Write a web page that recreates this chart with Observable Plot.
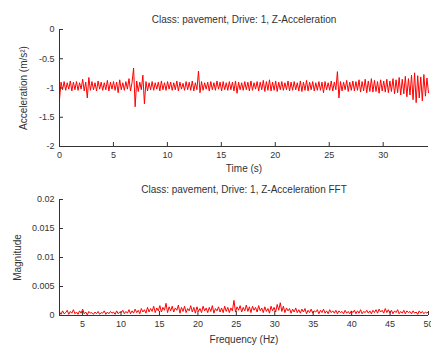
<!DOCTYPE html>
<html><head><meta charset="utf-8">
<script src="https://cdn.jsdelivr.net/npm/d3@7"></script>
<script src="https://cdn.jsdelivr.net/npm/@observablehq/plot@0.6"></script>
<style>html,body{margin:0;padding:0;background:#fff}svg{display:block}</style>
</head><body><div id="chart"></div>
<script>
// ---- Top panel: Z-acceleration over time ----
const accelTitle = "Class: pavement, Drive: 1, Z-Acceleration";
const accelXLabel = "Time (s)";
const accelYLabel = "Acceleration (m/s²)";
const accelDuration = 34.2; // seconds shown on the axis
const accel = [
 -1.20,-0.90,-1.03,-0.89,-1.04,-0.91,-1.02,-0.88,-1.05,-0.90,-1.03,-0.89,
 -1.04,-0.91,-1.02,-0.85,-1.05,-0.90,-1.17,-0.82,-1.04,-0.89,-1.03,-0.91,
 -1.05,-0.88,-1.02,-0.90,-1.04,-0.91,-1.03,-0.87,-1.05,-0.90,-1.02,-0.89,
 -1.04,-0.90,-1.08,-0.86,-1.03,-0.91,-1.04,-0.89,-1.02,-0.84,-1.05,-0.90,
 -0.66,-1.32,-0.88,-1.06,-0.90,-1.03,-0.78,-1.27,-0.89,-1.05,-0.91,-1.03,
 -0.89,-1.04,-0.91,-1.02,-0.90,-1.05,-0.88,-1.03,-0.91,-1.04,-0.89,-1.02,
 -0.90,-1.04,-0.91,-1.03,-0.88,-1.05,-0.90,-1.02,-0.92,-1.04,-0.89,-1.03,
 -0.90,-1.04,-0.88,-1.05,-0.91,-1.03,-0.71,-1.08,-0.89,-1.04,-0.91,-1.02,
 -0.90,-1.05,-0.89,-1.03,-0.91,-1.04,-0.88,-1.02,-0.90,-1.05,-0.89,-1.03,
 -0.91,-1.04,-0.89,-1.03,-0.90,-1.05,-0.88,-1.09,-0.90,-1.03,-0.91,-1.04,
 -0.89,-1.03,-0.90,-1.05,-0.88,-1.04,-0.91,-1.02,-0.89,-1.05,-0.90,-1.03,
 -0.87,-1.06,-0.89,-1.04,-0.86,-1.05,-0.90,-1.04,-0.88,-1.06,-0.90,-1.03,
 -0.89,-1.04,-0.91,-1.03,-0.88,-1.05,-0.90,-1.04,-0.89,-1.03,-0.91,-1.05,
 -0.88,-1.06,-0.90,-1.04,-0.87,-1.05,-0.90,-1.03,-0.89,-1.05,-0.91,-1.04,
 -0.89,-1.04,-0.90,-1.08,-0.89,-1.03,-0.91,-1.04,-0.88,-1.05,-0.90,-1.03,
 -0.72,-1.17,-0.89,-1.05,-0.90,-1.03,-0.87,-1.06,-0.90,-1.04,-0.88,-1.05,
 -0.89,-1.04,-0.86,-1.07,-0.89,-1.05,-0.85,-1.08,-0.88,-1.06,-0.84,-1.07,
 -0.87,-1.06,-0.89,-1.09,-0.86,-1.05,-0.88,-1.07,-0.85,-1.08,-0.88,-1.06,
 -0.84,-1.10,-0.86,-1.08,-0.82,-1.12,-0.85,-1.10,-0.80,-1.15,-0.84,-1.12,
 -0.78,-1.20,-0.74,-1.25,-0.79,-1.17,-0.81,-1.22,-0.77,-1.14,-0.83,-1.08
];
const timeTicks = [0, 5, 10, 15, 20, 25, 30];
const accelTicks = [0, -0.5, -1, -1.5, -2];
const accelDomain = [-2, 0];

// ---- Bottom panel: FFT magnitude ----
const fftTitle = "Class: pavement, Drive: 1, Z-Acceleration FFT";
const fftXLabel = "Frequency (Hz)";
const fftYLabel = "Magnitude";
const fftRange = [2, 50]; // Hz
const fftMag = [
 0.0006,0.0002,0.0008,0.0003,0.0005,0.0009,0.0002,0.0007,0.0004,0.0010,0.0003,0.0006,
 0.0002,0.0008,0.0004,0.0011,0.0003,0.0006,0.0001,0.0007,0.0004,0.0005,0.0002,0.0006,
 0.0003,0.0007,0.0002,0.0005,0.0004,0.0008,0.0002,0.0006,0.0003,0.0007,0.0004,0.0006,
 0.0002,0.0008,0.0003,0.0006,0.0005,0.0009,0.0003,0.0007,0.0004,0.0010,0.0003,0.0008,
 0.0004,0.0011,0.0005,0.0009,0.0003,0.0012,0.0006,0.0010,0.0004,0.0014,0.0006,0.0012,
 0.0007,0.0016,0.0005,0.0013,0.0008,0.0017,0.0006,0.0014,0.0009,0.0021,0.0005,0.0015,
 0.0008,0.0016,0.0006,0.0013,0.0009,0.0018,0.0004,0.0014,0.0007,0.0016,0.0005,0.0012,
 0.0008,0.0017,0.0006,0.0014,0.0004,0.0015,0.0007,0.0012,0.0005,0.0016,0.0008,0.0013,
 0.0005,0.0014,0.0007,0.0017,0.0004,0.0012,0.0008,0.0015,0.0006,0.0013,0.0005,0.0016,
 0.0007,0.0014,0.0005,0.0013,0.0008,0.0026,0.0006,0.0015,0.0009,0.0017,0.0006,0.0014,
 0.0008,0.0018,0.0007,0.0015,0.0005,0.0016,0.0009,0.0014,0.0006,0.0017,0.0008,0.0013,
 0.0005,0.0015,0.0007,0.0012,0.0004,0.0016,0.0008,0.0014,0.0006,0.0019,0.0009,0.0022,
 0.0007,0.0016,0.0005,0.0013,0.0008,0.0012,0.0004,0.0011,0.0006,0.0013,0.0005,0.0010,
 0.0004,0.0011,0.0006,0.0012,0.0003,0.0009,0.0005,0.0011,0.0004,0.0008,0.0006,0.0010,
 0.0003,0.0009,0.0005,0.0011,0.0004,0.0008,0.0003,0.0010,0.0005,0.0008,0.0004,0.0009,
 0.0003,0.0008,0.0005,0.0007,0.0003,0.0009,0.0004,0.0007,0.0003,0.0008,0.0005,0.0009,
 0.0003,0.0008,0.0004,0.0010,0.0003,0.0007,0.0005,0.0009,0.0004,0.0008,0.0003,0.0009,
 0.0005,0.0010,0.0004,0.0011,0.0006,0.0009,0.0004,0.0012,0.0005,0.0010,0.0004,0.0009,
 0.0003,0.0008,0.0005,0.0010,0.0003,0.0007,0.0004,0.0009,0.0003,0.0008,0.0005,0.0007,
 0.0003,0.0008,0.0004,0.0006,0.0002,0.0008,0.0004,0.0007,0.0003,0.0006,0.0004,0.0007
];
const freqTicks = [5, 10, 15, 20, 25, 30, 35, 40, 45, 50];
const magTicks = [0, 0.005, 0.01, 0.015, 0.02];
const magDomain = [0, 0.02];

// ---- Build tables ----
const accelData = accel.map((v, i) => ({t: i * accelDuration / (accel.length - 1), a: v}));
const fftData = fftMag.map((v, i) => ({f: fftRange[0] + i * (fftRange[1] - fftRange[0]) / (fftMag.length - 1), m: v}));

const FONT = "'Liberation Sans', Arial, Helvetica, sans-serif";
const INK = "#333";
const RED = "#ff0000";
const fmt = d => String(d);

function panel({data, x, y, xDomain, yDomain, xTicks, yTicks, title, xLabel, yLabel,
                width, height, mt, mb, ml, mr, titleDy, xLabelDy, yLabelDx}) {
  const innerW = width - ml - mr, innerH = height - mt - mb;
  return Plot.plot({
    width, height, marginTop: mt, marginBottom: mb, marginLeft: ml, marginRight: mr,
    style: {fontFamily: FONT, fontSize: "9px", color: INK, background: "#fff", overflow: "visible"},
    x: {domain: xDomain},
    y: {domain: yDomain},
    marks: [
      Plot.lineY(data, {x, y, stroke: RED, strokeWidth: 1}),
      Plot.ruleX([xDomain[0]], {stroke: INK, strokeWidth: 1}),
      Plot.ruleY([yDomain[0]], {stroke: INK, strokeWidth: 1}),
      Plot.tickX(xTicks, {x: d => d, insetTop: innerH - 4, stroke: INK}),
      Plot.tickY(yTicks, {y: d => d, insetRight: innerW - 4, stroke: INK}),
      Plot.axisX({ticks: xTicks, tickSize: 0, tickPadding: 5, label: null, tickFormat: fmt, fill: INK}),
      Plot.axisY({ticks: yTicks, tickSize: 0, tickPadding: 5, label: null, tickFormat: fmt, fill: INK}),
      Plot.text([title], {frameAnchor: "top", dy: titleDy, fontSize: 10, fill: INK}),
      Plot.text([xLabel], {frameAnchor: "bottom", dy: xLabelDy, fontSize: 10, fill: INK}),
      Plot.text([yLabel], {frameAnchor: "left", textAnchor: "middle", dx: yLabelDx, rotate: -90, fontSize: 10, fill: INK})
    ]
  });
}

const accelPanel = panel({
  data: accelData, x: "t", y: "a", xDomain: [0, accelDuration], yDomain: accelDomain,
  xTicks: timeTicks, yTicks: accelTicks, title: accelTitle, xLabel: accelXLabel, yLabel: accelYLabel,
  width: 431, height: 180, mt: 29, mb: 34, ml: 59, mr: 3, titleDy: -14, xLabelDy: 25.5, yLabelDx: -35.5
});
const fftPanel = panel({
  data: fftData, x: "f", y: "m", xDomain: fftRange, yDomain: magDomain,
  xTicks: freqTicks, yTicks: magTicks, title: fftTitle, xLabel: fftXLabel, yLabel: fftYLabel,
  width: 431, height: 174, mt: 19, mb: 39, ml: 59, mr: 3, titleDy: -14, xLabelDy: 27, yLabelDx: -41.5
});
document.getElementById("chart").append(accelPanel, fftPanel);
</script>
</body></html>
